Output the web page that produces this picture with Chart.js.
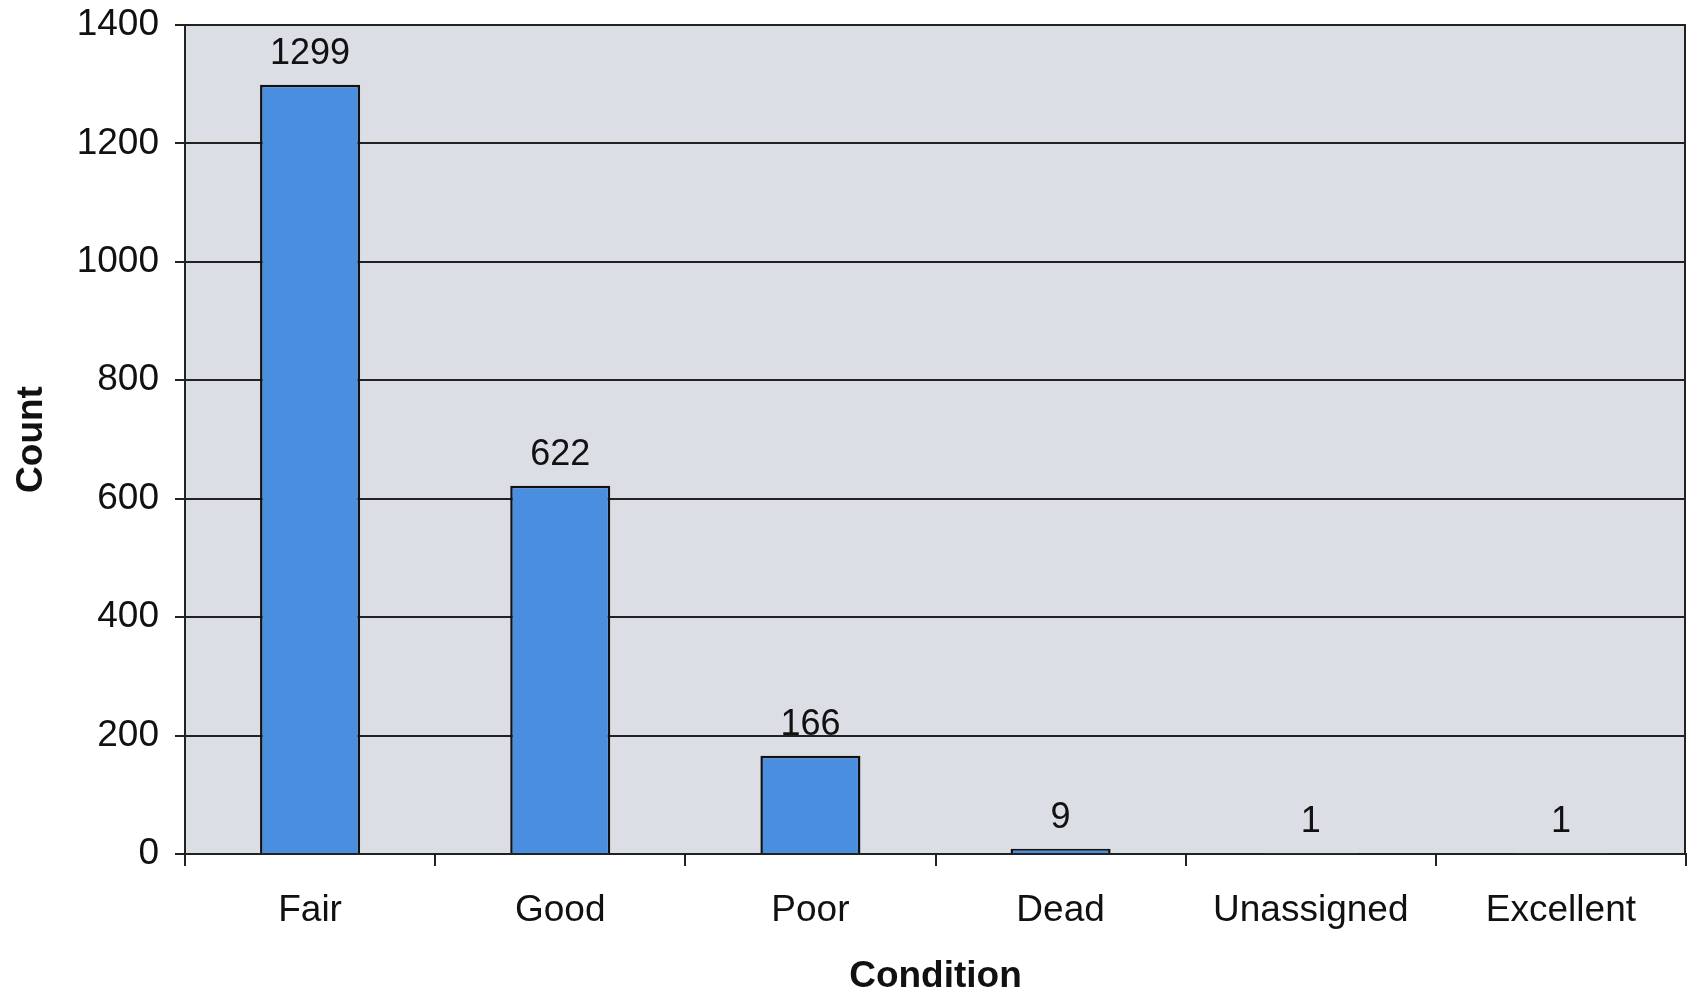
<!DOCTYPE html>
<html>
<head>
<meta charset="utf-8">
<script src="https://cdn.jsdelivr.net/npm/chart.js@4/dist/chart.umd.min.js"></script>
<style>
  html, body { margin: 0; padding: 0; background: #fff; }
  canvas { display: block; }
</style>
</head>
<body>
<canvas id="condition-chart" width="1688" height="993"></canvas>
<script>
// tree condition counts
var conditions = ["Fair", "Good", "Poor", "Dead", "Unassigned", "Excellent"];
var counts = [1299, 622, 166, 9, 1, 1];
var yTicks = [0, 200, 400, 600, 800, 1000, 1200, 1400];

var FONT = "'Liberation Sans', Arial, Helvetica, sans-serif";

// grey plot area plus right border
var plotBackground = {
    id: 'plotBackground',
    beforeDraw: function(chart) {
        var a = chart.chartArea, ctx = chart.ctx;
        ctx.save();
        ctx.fillStyle = '#dcdee6';
        ctx.fillRect(a.left, a.top, a.right - a.left, a.bottom - a.top);
        ctx.restore();
    },
    afterDraw: function(chart) {
        var a = chart.chartArea, ctx = chart.ctx;
        ctx.save();
        ctx.strokeStyle = '#222';
        ctx.lineWidth = 2;
        ctx.beginPath();
        ctx.moveTo(a.right - 1, a.top);
        ctx.lineTo(a.right - 1, a.bottom);
        ctx.stroke();
        ctx.restore();
    }
};

// value above each bar
var barValues = {
    id: 'barValues',
    afterDatasetsDraw: function(chart) {
        var ctx = chart.ctx;
        var meta = chart.getDatasetMeta(0);
        ctx.save();
        ctx.font = '36px ' + FONT;
        ctx.fillStyle = '#111';
        ctx.textAlign = 'center';
        ctx.textBaseline = 'alphabetic';
        meta.data.forEach(function(bar, i) {
            ctx.fillText(String(counts[i]), bar.x, bar.y - 21);
        });
        ctx.restore();
    }
};

new Chart(document.getElementById('condition-chart').getContext('2d'), {
    type: 'bar',
    data: {
        labels: conditions,
        datasets: [{
            label: 'Count',
            data: counts,
            backgroundColor: '#4a8ee0',
            borderColor: '#111',
            borderWidth: 2.5,
            barPercentage: 0.8,
            categoryPercentage: 0.5
        }]
    },
    options: {
        responsive: false,
        animation: false,
        devicePixelRatio: 1,
        layout: { padding: { top: 25, right: 2, left: 0, bottom: 0 } },
        plugins: {
            legend: { display: false },
            tooltip: { enabled: false }
        },
        scales: {
            x: {
                afterFit: function(scale) { scale.height = 139; },
                grid: {
                    display: true,
                    drawOnChartArea: false,
                    tickLength: 12,
                    color: '#222',
                    lineWidth: 2
                },
                border: { display: true, color: '#222', width: 2 },
                ticks: {
                    color: '#111',
                    padding: 23,
                    font: { family: FONT, size: 37 }
                },
                title: {
                    display: true,
                    text: 'Condition',
                    color: '#111',
                    padding: { top: 0, bottom: 0 },
                    font: { family: FONT, size: 37, weight: 'bold', lineHeight: 0.9 }
                }
            },
            y: {
                min: 0,
                max: 1400,
                afterFit: function(scale) {
                    scale.width = 185;
                    scale.paddingTop = 0;
                    scale.paddingBottom = 0;
                },
                afterBuildTicks: function(scale) {
                    scale.ticks = yTicks.map(function(v) { return { value: v }; });
                },
                grid: {
                    color: '#222',
                    lineWidth: 2,
                    tickLength: 10
                },
                border: { display: true, color: '#222', width: 2 },
                ticks: {
                    color: '#111',
                    padding: 16,
                    font: { family: FONT, size: 37 },
                    callback: function(v) { return String(v); }
                },
                title: {
                    display: true,
                    text: 'Count',
                    color: '#111',
                    padding: { top: 10, bottom: 10 },
                    font: { family: FONT, size: 37, weight: 'bold' }
                }
            }
        }
    },
    plugins: [plotBackground, barValues]
});
</script>
</body>
</html>
